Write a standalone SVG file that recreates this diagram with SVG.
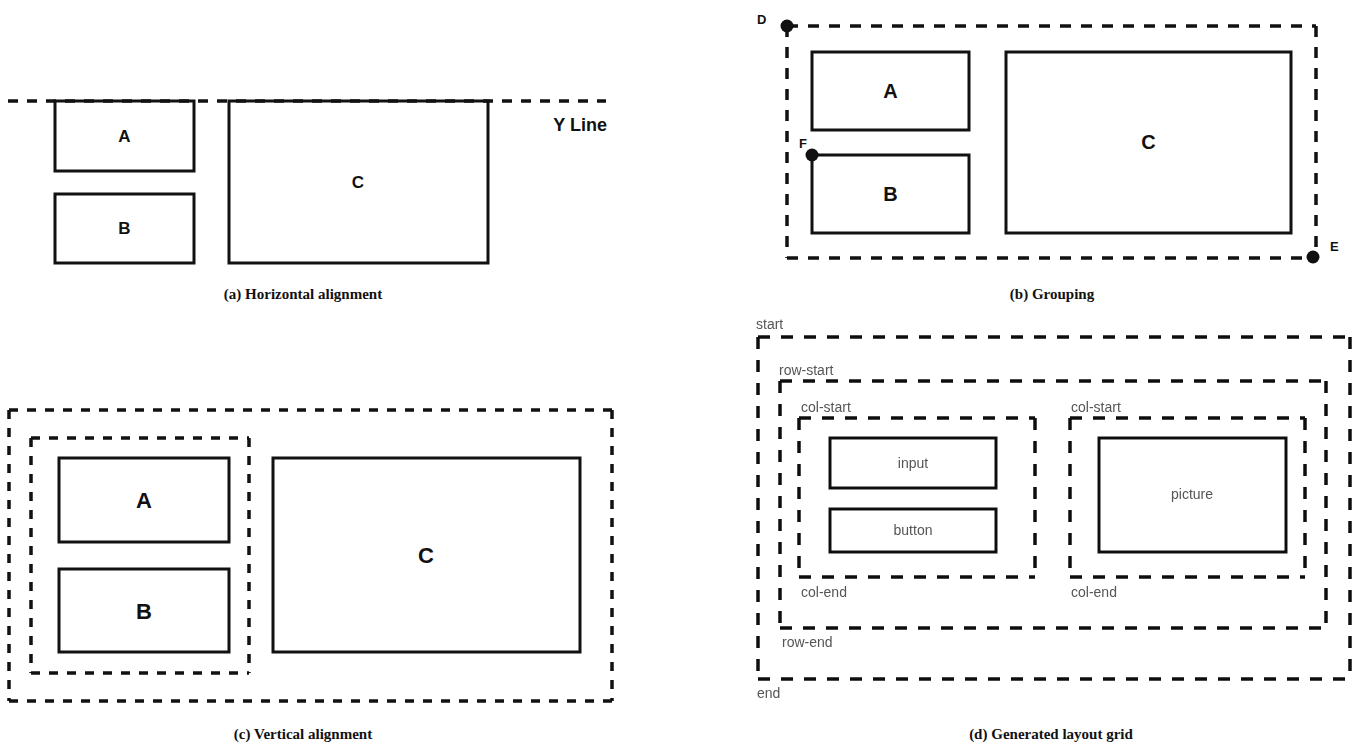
<svg xmlns="http://www.w3.org/2000/svg" width="1353" height="746" viewBox="0 0 1353 746">
  <style>
    .box { fill: none; stroke: #111; stroke-width: 3; }
    .dash-a { fill: none; stroke: #111; stroke-width: 3.5; stroke-dasharray: 10 9; }
    .dash-b { fill: none; stroke: #111; stroke-width: 3.5; stroke-dasharray: 11 10; }
    .dash-c { fill: none; stroke: #111; stroke-width: 3.5; stroke-dasharray: 9 9; }
    .dash-d { fill: none; stroke: #111; stroke-width: 3.5; stroke-dasharray: 12 11; }
    .lbl { font-family: "Liberation Sans", Arial, sans-serif; font-weight: bold; fill: #111; text-anchor: middle; }
    .pt { font-family: "Liberation Sans", Arial, sans-serif; font-weight: bold; fill: #111; font-size: 13px; }
    .grid { font-family: "Liberation Sans", Arial, sans-serif; fill: #555; font-size: 14px; }
    .cap { font-family: "Liberation Serif", "Times New Roman", serif; font-weight: bold; font-size: 15px; fill: #111; text-anchor: middle; }
    .dot { fill: #111; }
  </style>
  <defs>
    <filter id="soft" x="-2%" y="-2%" width="104%" height="104%">
      <feGaussianBlur stdDeviation="0.6"/>
    </filter>
  </defs>

  <!-- (a) Horizontal alignment -->
  <g id="panel-a">
    <path class="dash-a" d="M8 101 H606"/>
    <g id="a-box-A"><rect class="box" x="55" y="101" width="139" height="70"/><text class="lbl" x="124.5" y="142" font-size="17">A</text></g>
    <g id="a-box-B"><rect class="box" x="55" y="194" width="139" height="69"/><text class="lbl" x="124.5" y="234" font-size="17">B</text></g>
    <g id="a-box-C"><rect class="box" x="229" y="101" width="259" height="162"/><text class="lbl" x="358" y="188" font-size="17">C</text></g>
    <text class="lbl" x="607" y="131" font-size="18" style="text-anchor:end">Y Line</text>
    <text class="cap" x="303" y="299">(a) Horizontal alignment</text>
  </g>

  <!-- (b) Grouping -->
  <g id="panel-b">
    <path class="dash-b" d="M787 26 H1316 M787 26 V258 M787 258 H1316 M1316 26 V258"/>
    <g id="b-box-A"><rect class="box" x="812" y="52" width="157" height="78"/><text class="lbl" x="890.5" y="98" font-size="20">A</text></g>
    <g id="b-box-B"><rect class="box" x="812" y="155" width="157" height="78"/><text class="lbl" x="890.5" y="201" font-size="20">B</text></g>
    <g id="b-box-C"><rect class="box" x="1006" y="52" width="285" height="181"/><text class="lbl" x="1148.5" y="149" font-size="20">C</text></g>
    <g id="b-point-D"><circle class="dot" cx="787" cy="26" r="6.5"/><text class="pt" x="757" y="24">D</text></g>
    <g id="b-point-F"><circle class="dot" cx="812" cy="155" r="6.5"/><text class="pt" x="799" y="148">F</text></g>
    <g id="b-point-E"><circle class="dot" cx="1313" cy="257" r="6.5"/><text class="pt" x="1330" y="251">E</text></g>
    <text class="cap" x="1052" y="299">(b) Grouping</text>
  </g>

  <!-- (c) Vertical alignment -->
  <g id="panel-c">
    <path class="dash-c" d="M9 410 H612 M9 410 V701 M9 701 H612 M612 410 V701"/>
    <path class="dash-c" d="M31 438 H249 M31 438 V673 M31 673 H249 M249 438 V673"/>
    <g id="c-box-A"><rect class="box" x="59" y="458" width="170" height="84"/><text class="lbl" x="144" y="508" font-size="22">A</text></g>
    <g id="c-box-B"><rect class="box" x="59" y="569" width="170" height="83"/><text class="lbl" x="144" y="619" font-size="22">B</text></g>
    <g id="c-box-C"><rect class="box" x="273" y="458" width="307" height="194"/><text class="lbl" x="426" y="563" font-size="22">C</text></g>
    <text class="cap" x="303" y="739">(c) Vertical alignment</text>
  </g>

  <!-- (d) Generated layout grid -->
  <g id="panel-d">
    <g filter="url(#soft)">
      <g id="d-start">
        <path class="dash-d" d="M758 337 H1350 M758 337 V679 M758 679 H1350 M1350 337 V679"/>
        <text class="grid" x="756" y="329">start</text>
        <text class="grid" x="757" y="698">end</text>
      </g>
      <g id="d-row">
        <path class="dash-d" d="M780 381 H1326 M780 381 V628 M780 628 H1326 M1326 381 V628"/>
        <text class="grid" x="779" y="375">row-start</text>
        <text class="grid" x="782" y="647">row-end</text>
      </g>
      <g id="d-col-left">
        <path class="dash-d" d="M799 418 H1035 M799 418 V577 M799 577 H1035 M1035 418 V577"/>
        <text class="grid" x="801" y="412">col-start</text>
        <text class="grid" x="801" y="597">col-end</text>
      </g>
      <g id="d-col-right">
        <path class="dash-d" d="M1070 418 H1305 M1070 418 V577 M1070 577 H1305 M1305 418 V577"/>
        <text class="grid" x="1071" y="412">col-start</text>
        <text class="grid" x="1071" y="597">col-end</text>
      </g>
      <g id="d-input"><rect class="box" x="830" y="438" width="166" height="50"/><text class="grid" x="913" y="468" text-anchor="middle">input</text></g>
      <g id="d-button"><rect class="box" x="830" y="509" width="166" height="43"/><text class="grid" x="913" y="535" text-anchor="middle">button</text></g>
      <g id="d-picture"><rect class="box" x="1099" y="438" width="187" height="114"/><text class="grid" x="1192" y="499" text-anchor="middle">picture</text></g>
    </g>
    <text class="cap" x="1051" y="739">(d) Generated layout grid</text>
  </g>
</svg>
